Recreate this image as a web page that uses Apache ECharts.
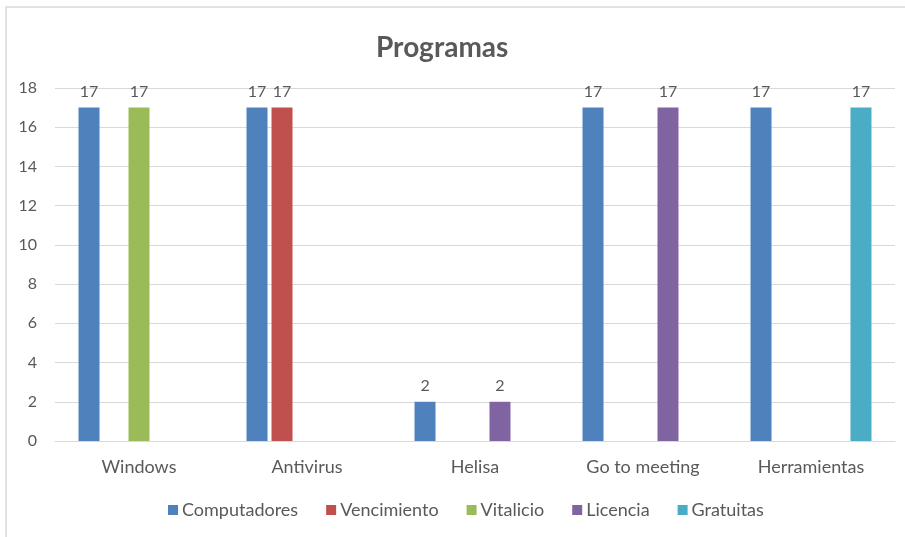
<!DOCTYPE html>
<html>
<head>
<meta charset="utf-8">
<script src="https://cdn.jsdelivr.net/npm/echarts@6/dist/echarts.min.js"></script>
<style>html,body{margin:0;padding:0;background:#fff}#c{width:905px;height:537px}</style>
</head>
<body>
<div id="c"></div>
<script>
const categories = ['Windows', 'Antivirus', 'Helisa', 'Go to meeting', 'Herramientas'];
const seriesNames = ['Computadores', 'Vencimiento', 'Vitalicio', 'Licencia', 'Gratuitas'];
const computadores = [17, 17, 2, 17, 17];
const vencimiento = [null, 17, null, null, null];
const vitalicio = [17, null, null, null, null];
const licencia = [null, null, 2, 17, null];
const gratuitas = [null, null, null, null, 17];
const yTicks = [0, 2, 4, 6, 8, 10, 12, 14, 16, 18];
const colors = ['#4f81bd', '#c0504d', '#9bbb59', '#8064a2', '#4bacc6'];

const FONT = 'Lato, "Open Sans", sans-serif';
const seriesData = [computadores, vencimiento, vitalicio, licencia, gratuitas];
const chart = echarts.init(document.getElementById('c'));
chart.setOption({
  animation: false,
  color: colors,
  textStyle: { fontFamily: FONT },
  title: {
    text: 'Programas', left: 371, top: 29,
    textStyle: { fontSize: 28, fontWeight: 'bold', color: '#595959', fontFamily: FONT }
  },
  graphic: [{
    type: 'rect', shape: { x: 6, y: 7, width: 960, height: 600 },
    style: { fill: 'none', stroke: '#d9d9d9', lineWidth: 1.5 }, silent: true, z: -1
  }],
  legend: {
    bottom: 13, left: 163, itemWidth: 10, itemHeight: 10, itemGap: 28,
    icon: 'rect',
    textStyle: { fontSize: 18, color: '#595959', fontFamily: FONT, padding: [0, 0, 0, -1] },
    data: seriesNames
  },
  grid: { left: 55, right: 10, top: 88, bottom: 96, containLabel: false },
  xAxis: {
    type: 'category', data: categories,
    axisTick: { show: false },
    axisLine: { lineStyle: { color: '#d9d9d9', width: 1 } },
    axisLabel: { fontSize: 18, color: '#595959', margin: 17, fontFamily: FONT }
  },
  yAxis: {
    type: 'value', min: yTicks[0], max: yTicks[yTicks.length - 1], interval: 2,
    axisLine: { show: false }, axisTick: { show: false },
    splitLine: { lineStyle: { color: '#d9d9d9', width: 1 } },
    axisLabel: { fontSize: 16, color: '#595959', margin: 18, fontFamily: FONT }
  },
  series: seriesNames.map((n, i) => ({
    name: n, type: 'bar', data: seriesData[i],
    barWidth: 21, barGap: '19%',
    label: { show: true, position: 'top', distance: 8, fontSize: 16, color: '#595959', fontFamily: FONT }
  }))
});
</script>
</body>
</html>
